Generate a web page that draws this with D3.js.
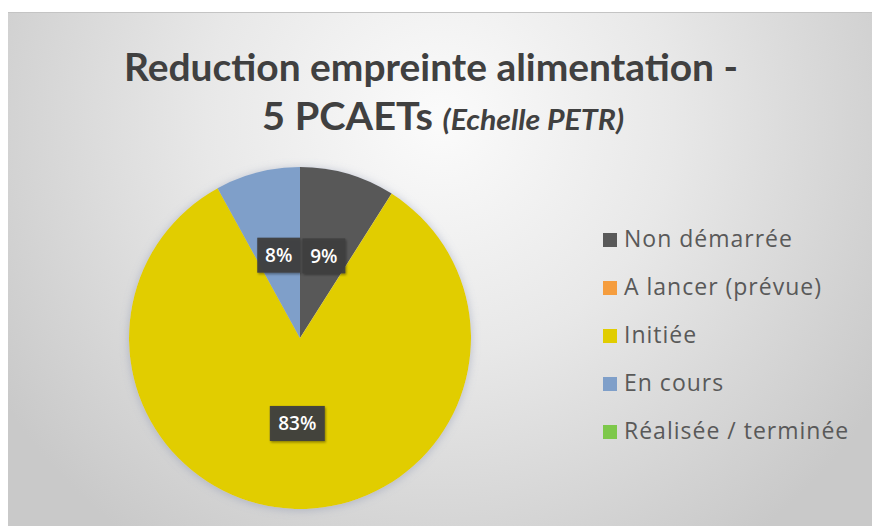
<!DOCTYPE html>
<html>
<head>
<meta charset="utf-8">
<script src="https://cdn.jsdelivr.net/npm/d3@7"></script>
<style>
  html, body { margin: 0; padding: 0; background: #fff; }
  #chart { width: 872px; height: 526px; }
</style>
</head>
<body>
<div id="chart"></div>
<script>
"use strict";

// data
const categories = ["Non démarrée", "A lancer (prévue)", "Initiée", "En cours", "Réalisée / terminée"];
const values = [9, 0, 83, 8, 0];
const colors = ["#595959", "#f59d3e", "#e1cd00", "#7f9fc9", "#7dc84a"];
const titleLine1 = "Reduction empreinte alimentation -";
const titleLine2a = "5 PCAETs ";
const titleLine2b = "(Echelle PETR)";

const width = 872;
const height = 526;

const svg = d3
  .select("#chart")
  .append("svg")
  .attr("width", width)
  .attr("height", height);

const defs = svg.append("defs");

// background: soft radial gradient, light in the top middle
const bg = defs
  .append("radialGradient")
  .attr("id", "bg")
  .attr("gradientUnits", "userSpaceOnUse")
  .attr("cx", 440)
  .attr("cy", 120)
  .attr("r", 520);
bg.append("stop").attr("offset", "0%").attr("stop-color", "#fbfbfb");
bg.append("stop").attr("offset", "45%").attr("stop-color", "#e8e8e8");
bg.append("stop").attr("offset", "100%").attr("stop-color", "#c9c9c9");

const glow = defs
  .append("filter")
  .attr("id", "glow")
  .attr("x", "-20%")
  .attr("y", "-20%")
  .attr("width", "140%")
  .attr("height", "140%");
glow
  .append("feDropShadow")
  .attr("dx", 0)
  .attr("dy", 1)
  .attr("stdDeviation", 5)
  .attr("flood-color", "#7a86a8")
  .attr("flood-opacity", 0.45);

const boxShadow = defs.append("filter").attr("id", "boxShadow");
boxShadow
  .append("feDropShadow")
  .attr("dx", 1)
  .attr("dy", 1.5)
  .attr("stdDeviation", 1.2)
  .attr("flood-color", "#000")
  .attr("flood-opacity", 0.4);

svg
  .append("rect")
  .attr("x", 8)
  .attr("y", 12)
  .attr("width", width - 8)
  .attr("height", height - 12)
  .attr("fill", "url(#bg)");

svg
  .append("line")
  .attr("x1", 8)
  .attr("x2", width)
  .attr("y1", 12.5)
  .attr("y2", 12.5)
  .attr("stroke", "#c4c4c4")
  .attr("stroke-width", 1);

// title
const title = svg
  .append("g")
  .attr("font-family", "Lato, 'Open Sans', sans-serif")
  .attr("font-weight", 700)
  .attr("fill", "#404040")
  .attr("text-anchor", "middle");

title
  .append("text")
  .attr("x", 431)
  .attr("y", 81)
  .attr("font-size", "38px")
  .attr("textLength", 614)
  .attr("lengthAdjust", "spacingAndGlyphs")
  .text(titleLine1);

const t2 = title
  .append("text")
  .attr("x", 443)
  .attr("y", 130)
  .attr("font-size", "38px")
  .attr("textLength", 362)
  .attr("lengthAdjust", "spacingAndGlyphs");
t2.append("tspan").text(titleLine2a);
t2
  .append("tspan")
  .attr("font-style", "italic")
  .attr("font-size", "29px")
  .text(titleLine2b);

// pie
const cx = 300;
const cy = 338;
const radius = 171;

const pie = d3.pie().sort(null).value((d) => d.value);
const arcs = pie(categories.map((c, i) => ({ name: c, value: values[i], color: colors[i] })));
const arc = d3.arc().innerRadius(0).outerRadius(radius);

const pieG = svg.append("g").attr("transform", `translate(${cx},${cy})`);

pieG
  .append("g")
  .attr("filter", "url(#glow)")
  .selectAll("path")
  .data(arcs.filter((d) => d.value > 0))
  .enter()
  .append("path")
  .attr("d", arc)
  .attr("fill", (d) => d.data.color);

// data labels (dark boxes at the middle of each slice)
const total = d3.sum(values);
const labels = pieG
  .selectAll(".label")
  .data(arcs.filter((d) => d.value > 0))
  .enter()
  .append("g")
  .attr("class", "label")
  .attr("transform", (d) => `translate(${arc.centroid(d)})`);

labels
  .append("rect")
  .attr("x", (d) => (d.value >= 10 ? -27.5 : -21.5))
  .attr("y", -17.5)
  .attr("width", (d) => (d.value >= 10 ? 55 : 43))
  .attr("height", 35)
  .attr("fill", "#3f3f3f")
  .attr("fill-opacity", 0.95)
  .attr("filter", "url(#boxShadow)");

labels
  .append("text")
  .attr("text-anchor", "middle")
  .attr("dy", "0.36em")
  .attr("font-family", "'Open Sans', Lato, sans-serif")
  .attr("font-weight", 600)
  .attr("font-size", "19px")
  .attr("fill", "#ffffff")
  .text((d) => `${Math.round((d.value / total) * 100)}%`);

// legend
const legend = svg
  .append("g")
  .attr("font-family", "'Open Sans', Lato, sans-serif")
  .attr("font-size", "23px")
  .attr("letter-spacing", "1px")
  .attr("fill", "#595959");

const legendY = d3
  .scalePoint()
  .domain(categories)
  .range([247, 439]);

const item = legend
  .selectAll(".item")
  .data(categories)
  .enter()
  .append("g")
  .attr("class", "item")
  .attr("transform", (d) => `translate(603,${legendY(d)})`);

item
  .append("rect")
  .attr("x", 0)
  .attr("y", -14)
  .attr("width", 14)
  .attr("height", 14)
  .attr("fill", (d, i) => colors[i]);

item
  .append("text")
  .attr("x", 21)
  .attr("y", 0)
  .text((d) => d);
</script>
</body>
</html>
